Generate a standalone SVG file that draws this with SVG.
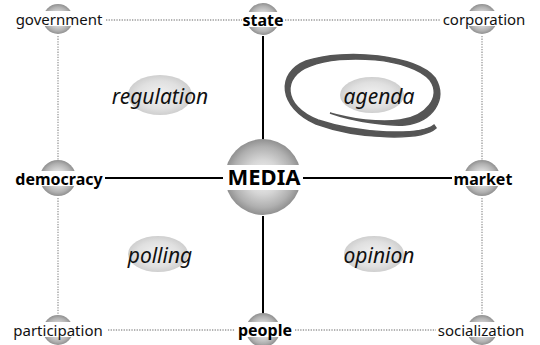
<svg xmlns="http://www.w3.org/2000/svg" width="540" height="345" viewBox="0 0 540 345">
<defs>
<radialGradient id="sph" cx="0.5" cy="0.5" r="0.5">
<stop offset="0" stop-color="#f6f6f6"/>
<stop offset="0.45" stop-color="#d6d6d6"/>
<stop offset="0.8" stop-color="#b0b0b0"/>
<stop offset="1" stop-color="#909090"/>
</radialGradient>
<radialGradient id="ell" cx="0.5" cy="0.5" r="0.5">
<stop offset="0" stop-color="#f2f2f2"/>
<stop offset="0.7" stop-color="#e0e0e0"/>
<stop offset="1" stop-color="#cfcfcf"/>
</radialGradient>
<style>
.sp{fill:url(#sph)}
.band{fill:#fff}
.lab{font-family:"Noto Sans","Open Sans",sans-serif;font-size:15px;fill:#111}
.bl{font-family:"Noto Sans","Open Sans",sans-serif;font-size:16px;font-weight:bold;fill:#000}
.big{font-size:22px}
.it{font-family:"Noto Sans","Open Sans",sans-serif;font-size:21px;font-style:italic;fill:#111}
.dot{stroke:#999;stroke-width:1.3;stroke-dasharray:1.3 1.3;fill:none}
.sol{stroke:#000;stroke-width:2;fill:none}
.el{fill:url(#ell)}
</style>
</defs>
<g id="connectors">
<line class="dot" x1="106" y1="20" x2="242" y2="20"/>
<line class="dot" x1="285" y1="20" x2="440" y2="20"/>
<line class="dot" x1="108" y1="330" x2="235" y2="330"/>
<line class="dot" x1="295" y1="330" x2="436" y2="330"/>
<line class="dot" x1="58" y1="36" x2="58" y2="160"/>
<line class="dot" x1="58" y1="198" x2="58" y2="315"/>
<line class="dot" x1="482" y1="36" x2="482" y2="160"/>
<line class="dot" x1="482" y1="198" x2="482" y2="315"/>
<line class="sol" x1="263" y1="36" x2="263" y2="140"/>
<line class="sol" x1="263" y1="216" x2="263" y2="314"/>
<line class="sol" x1="105" y1="178" x2="225" y2="178"/>
<line class="sol" x1="302" y1="178" x2="452" y2="178"/>
</g>
<g id="media">
<circle class="sp" cx="263" cy="177" r="38"/>
<rect class="band" x="223" y="165" width="80" height="25"/>
<text class="bl big" x="264" y="185" text-anchor="middle">MEDIA</text>
</g>
<g id="state">
<circle class="sp" cx="263" cy="19" r="16"/>
<rect class="band" x="243" y="12" width="40" height="15"/>
<text class="bl" x="263" y="26" text-anchor="middle">state</text>
</g>
<g id="people">
<circle class="sp" cx="263" cy="330" r="17"/>
<rect class="band" x="236" y="322" width="58" height="15"/>
<text class="bl" x="265" y="336" text-anchor="middle">people</text>
</g>
<g id="democracy">
<circle class="sp" cx="58" cy="178" r="18"/>
<rect class="band" x="13" y="171" width="92" height="15"/>
<text class="bl" x="59" y="185" text-anchor="middle">democracy</text>
</g>
<g id="market">
<circle class="sp" cx="482" cy="178" r="18"/>
<rect class="band" x="453" y="171" width="60" height="15"/>
<text class="bl" x="483" y="185" text-anchor="middle">market</text>
</g>
<g id="government">
<circle class="sp" cx="58" cy="19" r="15"/>
<rect class="band" x="13" y="11" width="92" height="15"/>
<text class="lab" x="59" y="25" text-anchor="middle">government</text>
</g>
<g id="corporation">
<circle class="sp" cx="482" cy="19" r="15"/>
<rect class="band" x="440" y="11" width="88" height="15"/>
<text class="lab" x="484" y="25" text-anchor="middle">corporation</text>
</g>
<g id="participation">
<circle class="sp" cx="58" cy="330" r="15"/>
<rect class="band" x="10" y="322" width="98" height="15"/>
<text class="lab" x="58" y="336" text-anchor="middle">participation</text>
</g>
<g id="socialization">
<circle class="sp" cx="482" cy="330" r="15"/>
<rect class="band" x="436" y="322" width="92" height="15"/>
<text class="lab" x="481" y="336" text-anchor="middle">socialization</text>
</g>
<g id="regulation">
<ellipse class="el" cx="160" cy="95" rx="32" ry="20"/>
<text class="it" x="160" y="104" text-anchor="middle">regulation</text>
</g>
<g id="agenda">
<path d="M434 125 C 420 136, 360 134, 318 120 C 282 106, 282 76, 310 66 C 342 53, 412 58, 430 80 C 442 97, 426 117, 400 120 C 380 123, 350 119, 330 113 C 355 122, 390 126, 405 125 C 432 122, 448 100, 435 78 C 417 55, 345 48, 306 61 C 276 73, 278 107, 316 124 C 360 140, 422 141, 436 128 Z" fill="#555" stroke="#555" stroke-width="1.5"/>
<ellipse class="el" cx="372" cy="95" rx="32" ry="18"/>
<text class="it" x="379" y="104" text-anchor="middle">agenda</text>
</g>
<g id="polling">
<ellipse class="el" cx="158" cy="254" rx="30" ry="18"/>
<text class="it" x="160" y="263" text-anchor="middle">polling</text>
</g>
<g id="opinion">
<ellipse class="el" cx="374" cy="254" rx="30" ry="18"/>
<text class="it" x="379" y="263" text-anchor="middle">opinion</text>
</g>
</svg>
